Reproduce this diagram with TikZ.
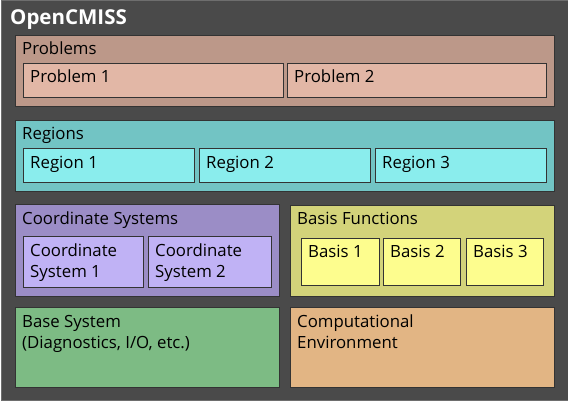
\documentclass[tikz,border=0pt]{standalone}
\usepackage{fontspec}
\setmainfont{Open Sans}
\usetikzlibrary{positioning}
\definecolor{backdrop}{HTML}{4A4A4A}
\definecolor{rim}{HTML}{6E6E6E}
\definecolor{edge}{HTML}{333333}
\definecolor{probout}{HTML}{BC9889}
\definecolor{probin}{HTML}{E2B7A6}
\definecolor{regout}{HTML}{72C4C4}
\definecolor{regin}{HTML}{8AEDED}
\definecolor{csout}{HTML}{9B8DC6}
\definecolor{csin}{HTML}{C0B2F5}
\definecolor{basout}{HTML}{D3D37A}
\definecolor{basin}{HTML}{FDFD8E}
\definecolor{basesys}{HTML}{7DBB84}
\definecolor{compenv}{HTML}{E2B584}
\newcommand{\boxlines}[1]{\begin{tabular}[t]{@{}l@{}}#1\end{tabular}}
\tikzstyle{panel}=[rectangle,draw=edge,line width=1pt,anchor=north west,inner sep=0pt]
\tikzstyle{caption}=[anchor=base west,inner sep=0pt,font=\fontsize{16.8}{21}\selectfont]

\begin{document}
\begin{tikzpicture}[x=1pt,y=-1pt]
	\useasboundingbox (0,0) rectangle (568,401);
	\node [panel, fill=backdrop, draw=rim, minimum width=567pt, minimum height=399pt] (opencmiss) at (0.5,0.5) {};
	\node [anchor=base west, inner sep=0pt, text=white, font=\fontsize{20.5}{24}\selectfont\bfseries] (title) at (10,25) {OpenCMISS};
	% problems
	\node [panel, fill=probout, minimum width=539pt, minimum height=71pt] (problems) at (15,35) {};
	\node [panel, fill=probin, minimum width=260pt, minimum height=34pt] (problem1) at (23,63) {};
	\node [panel, fill=probin, minimum width=259pt, minimum height=34pt] (problem2) at (287,63) {};
	% regions
	\node [panel, fill=regout, minimum width=539pt, minimum height=71pt] (regions) at (15,120) {};
	\node [panel, fill=regin, minimum width=171pt, minimum height=34pt] (region1) at (23,148) {};
	\node [panel, fill=regin, minimum width=171pt, minimum height=34pt] (region2) at (199,148) {};
	\node [panel, fill=regin, minimum width=171pt, minimum height=34pt] (region3) at (375,148) {};
	% coordinate systems
	\node [panel, fill=csout, minimum width=264pt, minimum height=92pt] (coords) at (15,204) {};
	\node [panel, fill=csin, minimum width=120pt, minimum height=51pt] (cs1) at (23,236) {};
	\node [panel, fill=csin, minimum width=123pt, minimum height=51pt] (cs2) at (148,236) {};
	% basis functions
	\node [panel, fill=basout, minimum width=264pt, minimum height=91pt] (basis) at (290,205) {};
	\node [panel, fill=basin, minimum width=78pt, minimum height=47pt] (basis1) at (301,238) {};
	\node [panel, fill=basin, minimum width=77pt, minimum height=47pt] (basis2) at (383,238) {};
	\node [panel, fill=basin, minimum width=77pt, minimum height=47pt] (basis3) at (466,238) {};
	% base system and environment
	\node [panel, fill=basesys, minimum width=264pt, minimum height=80pt] (base) at (15,307) {};
	\node [panel, fill=compenv, minimum width=264pt, minimum height=80pt] (env) at (290,307) {};
	% captions
	\foreach \b/\t in {problems/{Problems}, problem1/{Problem 1}, problem2/{Problem 2},
		regions/{Regions}, region1/{Region 1}, region2/{Region 2}, region3/{Region 3},
		coords/{Coordinate Systems}, cs1/{Coordinate\\System 1}, cs2/{Coordinate\\System 2},
		basis/{Basis Functions}, basis1/{Basis 1}, basis2/{Basis 2}, basis3/{Basis 3},
		base/{Base System\\(Diagnostics, I/O, etc.)}, env/{Computational\\Environment}}
		\node [caption] (\b-text) at ([shift={(7pt,-20pt)}]\b.north west) {\boxlines{\t}};
\end{tikzpicture}
\end{document}
